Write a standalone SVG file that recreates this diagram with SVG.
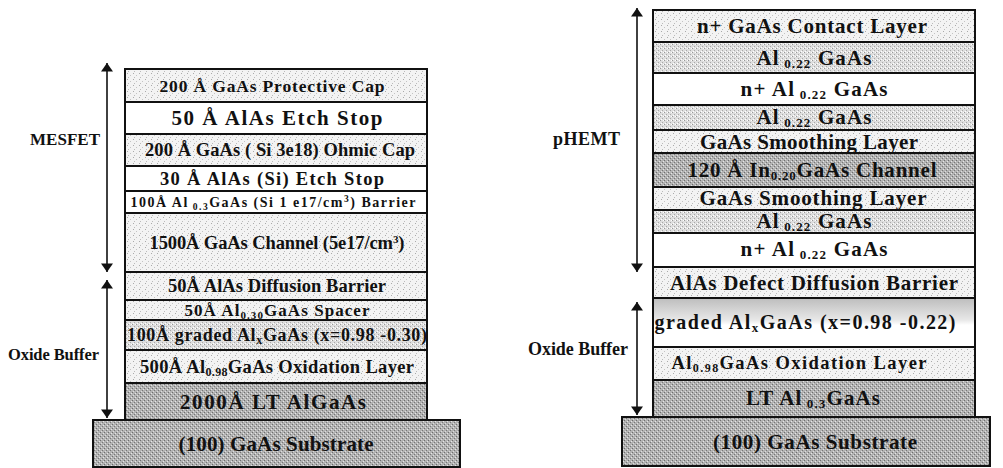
<svg xmlns="http://www.w3.org/2000/svg" width="1003" height="468" viewBox="0 0 1003 468">
<style>
.t{font-family:"Liberation Serif","Times New Roman",serif;font-weight:bold;fill:#111;text-anchor:middle}
.lbl{font-family:"Liberation Serif","Times New Roman",serif;font-weight:bold;fill:#111;text-anchor:end}
.ly{stroke:#111;stroke-width:2}
.w{fill:#fff}
.l{fill:url(#pl)}
.m{fill:url(#pm)}
.d{fill:url(#pd)}
.arr{stroke:#111;stroke-width:1.6;fill:none;marker-start:url(#ah);marker-end:url(#ah)}
</style>
<defs>
<pattern id="pl" width="6" height="6" patternUnits="userSpaceOnUse">
<rect width="6" height="6" fill="#f3f3f3"/>
<rect x="1" y="1" width="1" height="1" fill="#aaa"/>
<rect x="4" y="3" width="1" height="1" fill="#c4c4c4"/>
<rect x="2" y="5" width="1" height="1" fill="#bbb"/>
</pattern>
<pattern id="pm" width="4" height="4" patternUnits="userSpaceOnUse">
<rect width="4" height="4" fill="#dedede"/>
<rect x="0" y="0" width="1" height="1" fill="#999"/>
<rect x="2" y="2" width="1" height="1" fill="#a8a8a8"/>
<rect x="3" y="0" width="1" height="1" fill="#fff"/>
<rect x="1" y="3" width="1" height="1" fill="#fff"/>
</pattern>
<pattern id="pd" width="4" height="4" patternUnits="userSpaceOnUse">
<rect width="4" height="4" fill="#b2b2b2"/>
<rect x="0" y="0" width="1" height="1" fill="#6e6e6e"/>
<rect x="2" y="2" width="1" height="1" fill="#777"/>
<rect x="3" y="1" width="1" height="1" fill="#e6e6e6"/>
<rect x="1" y="3" width="1" height="1" fill="#ddd"/>
</pattern>
<linearGradient id="gr" x1="0" y1="0" x2="0" y2="1">
<stop offset="0" stop-color="#bdbdbd"/>
<stop offset="0.45" stop-color="#e8e8e8"/>
<stop offset="0.55" stop-color="#fff"/>
<stop offset="1" stop-color="#fff"/>
</linearGradient>
<marker id="ah" viewBox="0 0 10 14" refX="10" refY="7" markerWidth="14" markerHeight="12" markerUnits="userSpaceOnUse" orient="auto-start-reverse">
<path d="M0,0 L10,7 L0,14 Z" fill="#111"/>
</marker>
</defs>
<rect width="1003" height="468" fill="#fff"/>

<!-- LEFT STACK (MESFET) -->
<g id="l-substrate"><rect class="ly d" x="93" y="420" width="367" height="47"/><text class="t" x="276" y="451" font-size="21" textLength="195">(100) GaAs Substrate</text></g>
<g id="l-lt"><rect class="ly d" x="125" y="383" width="302" height="37"/><text class="t" x="273" y="409" font-size="21" textLength="186">2000Å LT AlGaAs</text></g>
<g id="l-oxid"><rect class="ly l" x="125" y="350" width="302" height="33"/><text class="t" x="277" y="373" font-size="18.5" textLength="274">500Å Al<tspan font-size="12" dy="3">0.98</tspan><tspan dy="-3">GaAs Oxidation Layer</tspan></text></g>
<g id="l-graded"><rect class="ly m" x="125" y="320" width="302" height="30"/><text class="t" x="277" y="341" font-size="18" textLength="300">100Å graded Al<tspan font-size="12" dy="3">x</tspan><tspan dy="-3">GaAs (x=0.98 -0.30)</tspan></text></g>
<g id="l-spacer"><rect class="ly l" x="125" y="300" width="302" height="20"/><text class="t" x="277" y="316" font-size="17" textLength="185">50Å Al<tspan font-size="11" dy="3">0.30</tspan><tspan dy="-3">GaAs Spacer</tspan></text></g>
<g id="l-diff"><rect class="ly l" x="125" y="272" width="302" height="28"/><text class="t" x="277" y="292" font-size="18.5" textLength="218">50Å AlAs Diffusion Barrier</text></g>
<g id="l-channel"><rect class="ly l" x="125" y="213" width="302" height="59"/><text class="t" x="277" y="249" font-size="18.5" textLength="255">1500Å GaAs Channel (5e17/cm<tspan font-size="11" dy="-6">3</tspan><tspan dy="6">)</tspan></text></g>
<g id="l-barrier"><rect class="ly w" x="125" y="191" width="302" height="22"/><text class="t" x="273" y="207" font-size="14" textLength="285">100Å Al<tspan font-size="9.5" dy="3"> 0.3</tspan><tspan dy="-3">GaAs (Si 1 e17/cm</tspan><tspan font-size="9.5" dy="-5">3</tspan><tspan dy="5">) Barrier</tspan></text></g>
<g id="l-etch30"><rect class="ly w" x="125" y="166" width="302" height="25"/><text class="t" x="272" y="185" font-size="18.5" textLength="224">30 Å AlAs (Si) Etch Stop</text></g>
<g id="l-ohmic"><rect class="ly l" x="125" y="134" width="302" height="32"/><text class="t" x="280" y="156" font-size="18.5" textLength="270">200 Å GaAs ( Si 3e18) Ohmic Cap</text></g>
<g id="l-etch50"><rect class="ly w" x="125" y="102" width="302" height="32"/><text class="t" x="277" y="125" font-size="21" textLength="211">50 Å AlAs Etch Stop</text></g>
<g id="l-cap"><rect class="ly l" x="125" y="69" width="302" height="33"/><text class="t" x="272" y="92" font-size="17.5" textLength="225">200 Å GaAs Protective Cap</text></g>

<!-- RIGHT STACK (pHEMT) -->
<g id="r-substrate"><rect class="ly d" x="622" y="417" width="368" height="49"/><text class="t" x="815" y="449" font-size="21" textLength="204">(100) GaAs Substrate</text></g>
<g id="r-lt"><rect class="ly d" x="653" y="380" width="322" height="37"/><text class="t" x="813" y="405" font-size="21" textLength="134">LT Al<tspan font-size="13" dy="3"> 0.3</tspan><tspan dy="-3">GaAs</tspan></text></g>
<g id="r-oxid"><rect class="ly l" x="653" y="347" width="322" height="33"/><text class="t" x="799" y="369" font-size="18.5" textLength="255">Al<tspan font-size="12" dy="3">0.98</tspan><tspan dy="-3">GaAs Oxidation Layer</tspan></text></g>
<g id="r-graded"><rect class="ly" fill="url(#gr)" x="653" y="298" width="322" height="49"/><text class="t" x="805" y="329" font-size="20" textLength="301">graded Al<tspan font-size="13" dy="3">x</tspan><tspan dy="-3">GaAs (x=0.98 -0.22)</tspan></text></g>
<g id="r-defect"><rect class="ly l" x="653" y="267" width="322" height="31"/><text class="t" x="814" y="290" font-size="21" textLength="288">AlAs Defect Diffusion Barrier</text></g>
<g id="r-nal2"><rect class="ly w" x="653" y="233" width="322" height="34"/><text class="t" x="814" y="256" font-size="21" textLength="147">n+ Al<tspan font-size="13" dy="3"> 0.22</tspan><tspan dy="-3"> GaAs</tspan></text></g>
<g id="r-al3"><rect class="ly m" x="653" y="210" width="322" height="23"/><text class="t" x="814" y="228" font-size="21" textLength="115">Al<tspan font-size="13" dy="3"> 0.22</tspan><tspan dy="-3"> GaAs</tspan></text></g>
<g id="r-smooth2"><rect class="ly l" x="653" y="187" width="322" height="23"/><text class="t" x="813" y="205" font-size="21" textLength="227">GaAs Smoothing Layer</text></g>
<g id="r-channel"><rect class="ly d" x="653" y="153" width="322" height="34"/><text class="t" x="812" y="177" font-size="21" textLength="249">120 Å In<tspan font-size="13" dy="3">0.20</tspan><tspan dy="-3">GaAs Channel</tspan></text></g>
<g id="r-smooth1"><rect class="ly l" x="653" y="130" width="322" height="23"/><text class="t" x="809" y="149" font-size="21" textLength="218">GaAs Smoothing Layer</text></g>
<g id="r-al2"><rect class="ly m" x="653" y="105" width="322" height="25"/><text class="t" x="814" y="124" font-size="21" textLength="115">Al<tspan font-size="13" dy="3"> 0.22</tspan><tspan dy="-3"> GaAs</tspan></text></g>
<g id="r-nal1"><rect class="ly w" x="653" y="73" width="322" height="32"/><text class="t" x="814" y="96" font-size="21" textLength="147">n+ Al<tspan font-size="13" dy="3"> 0.22</tspan><tspan dy="-3"> GaAs</tspan></text></g>
<g id="r-al1"><rect class="ly m" x="653" y="42" width="322" height="31"/><text class="t" x="814" y="65" font-size="21" textLength="115">Al<tspan font-size="13" dy="3"> 0.22</tspan><tspan dy="-3"> GaAs</tspan></text></g>
<g id="r-contact"><rect class="ly l" x="653" y="10" width="322" height="32"/><text class="t" x="812" y="33" font-size="21" textLength="230">n+ GaAs Contact Layer</text></g>

<!-- LABELS -->
<g id="label-mesfet"><text class="lbl" x="100" y="145" font-size="17" textLength="70">MESFET</text></g>
<g id="label-oxide-left"><text class="lbl" x="99" y="360" font-size="16.5" textLength="91">Oxide Buffer</text></g>
<g id="label-phemt"><text class="lbl" x="620" y="145" font-size="18" textLength="67">pHEMT</text></g>
<g id="label-oxide-right"><text class="lbl" x="628" y="355" font-size="18" textLength="100">Oxide Buffer</text></g>

<!-- CONNECTORS -->
<g id="connectors">
<line class="arr" x1="107" y1="63" x2="107" y2="272"/>
<line class="arr" x1="107" y1="280" x2="107" y2="418"/>
<line class="arr" x1="637" y1="8" x2="637" y2="272"/>
<line class="arr" x1="637" y1="302" x2="637" y2="415"/>
</g>
</svg>
